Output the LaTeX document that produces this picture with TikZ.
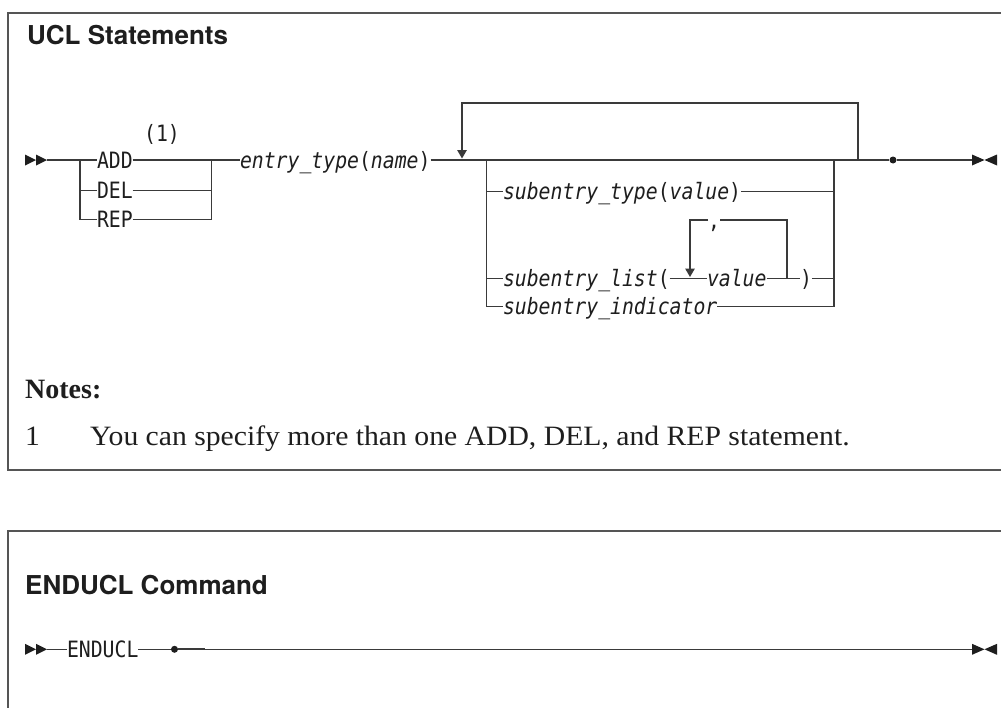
\documentclass[tikz,border=0pt]{standalone}
\usepackage{fontspec}
\setmainfont{Liberation Serif}
\newfontfamily\notefont[FakeStretch=1.06]{Liberation Serif}
\newfontfamily\diagfont[FakeStretch=0.879]{DejaVu Sans Mono}
\newfontfamily\headfont{TeX Gyre Heros}
\usetikzlibrary{arrows.meta}
\definecolor{ink}{HTML}{1E1E1E}
\definecolor{rulec}{HTML}{3A3A3A}
\definecolor{framec}{HTML}{555555}
\tikzset{
 syn/.style={font=\diagfont\fontsize{22.5}{25}\selectfont, inner sep=0pt, outer sep=0pt, text height=16.4pt, text depth=0pt, anchor=west, text=ink},
 synit/.style={syn, font=\diagfont\itshape\fontsize{22.5}{25}\selectfont},
 wire/.style={draw=rulec, line width=1.4pt},
 loopwire/.style={wire, -{Triangle[width=9.5pt,length=8.5pt]}},
 boxframe/.style={draw=framec, line width=2pt},
 head/.style={font=\headfont\bfseries\fontsize{26}{30}\selectfont, anchor=base west, inner sep=0pt, text=ink},
 notebold/.style={font=\bfseries\fontsize{28}{32}\selectfont, anchor=base west, inner sep=0pt, text=ink},
 notetext/.style={font=\notefont\fontsize{28}{32}\selectfont, anchor=base west, inner sep=0pt, text=ink},
 enddot/.style={circle, fill=ink, inner sep=0pt, minimum size=7pt},
 marks/.style={fill=ink},
}
\begin{document}
\begin{tikzpicture}[x=1pt,y=-1pt]
\useasboundingbox (0,0) rectangle (1001,707);
\fill[white] (0,0) rectangle (1001,707);
% frames
\draw[boxframe] (1010,13) -- (8,13) -- (8,470) -- (1010,470);
\draw[boxframe] (1010,531) -- (8,531) -- (8,720);

% ---------- UCL Statements ----------
\node[head] (t1) at (27,44) {UCL Statements};

\fill[marks] (25,154.5) -- (36,160) -- (25,165.5) -- cycle;
\fill[marks] (36,154.5) -- (47,160) -- (36,165.5) -- cycle;
\coordinate (s1) at (47,160);

\node[syn] (add) at (97,160) {ADD};
\node[syn] (del) at (97,190.5) {DEL};
\node[syn] (rep) at (97,219.5) {REP};
\node[syn, anchor=center] (fn1) at (162,133) {(1)};
\node[synit] (ent) at (240,160) {entry\_type{\upshape(}name{\upshape)}};

\coordinate (jL1) at (80,160);
\coordinate (jL2) at (80,190.5);
\coordinate (jL3) at (80,219.5);
\coordinate (jR1) at (211.5,160);
\coordinate (jR2) at (211.5,190.5);
\coordinate (jR3) at (211.5,219.5);

\draw[wire] (s1) -- (add.west);
\draw[wire] (jL1) -- (jL3) -- (rep.west);
\draw[wire] (jL2) -- (del.west);
\draw[wire] (add.east) -- (ent.west);
\draw[wire] (del.east) -- (jR2);
\draw[wire] (rep.east) -- (jR3) -- (jR1);

% repeat group
\node[synit] (st) at (503,191.5) {subentry\_type{\upshape(}value{\upshape)}};
\node[synit] (sl) at (503,278.5) {subentry\_list{\upshape(}};
\node[synit] (val) at (707,278.5) {value};
\node[syn] (comma) at (708,220) {,};
\node[syn] (rp) at (800,278.5) {)};
\node[synit] (si) at (503,306.5) {subentry\_indicator};
\node[enddot] (dot) at (893,160) {};

\coordinate (lpTip) at (462,158.5);
\coordinate (lpTL) at (462,103);
\coordinate (lpTR) at (858,103);
\coordinate (lpB) at (858,160);
\coordinate (cL1) at (486.5,160);
\coordinate (cL2) at (486.5,191.5);
\coordinate (cL3) at (486.5,278.5);
\coordinate (cL4) at (486.5,306.5);
\coordinate (cR1) at (834,160);
\coordinate (cR2) at (834,191.5);
\coordinate (cR3) at (834,278.5);
\coordinate (cR4) at (834,306.5);
\coordinate (ilTip) at (690,277);
\coordinate (ilTL) at (690,220);
\coordinate (ilTR) at (787,220);
\coordinate (ilB) at (787,278.5);

\draw[wire] (ent.east) -- (dot);
\draw[loopwire] (lpB) -- (lpTR) -- (lpTL) -- (lpTip);
\draw[wire] (cL1) -- (cL4) -- (si.west);
\draw[wire] (cL2) -- (st.west);
\draw[wire] (cL3) -- (sl.west);
\draw[wire] (st.east) -- (cR2);
\draw[wire] (si.east) -- (cR4) -- (cR1);
\draw[wire] (rp.east) -- (cR3);
\draw[wire] (sl.east) -- (val.west);
\draw[wire] (val.east) -- (rp.west);
\draw[wire] (ilB) -- (ilTR) -- (comma.east);
\draw[loopwire] (comma.west) -- (ilTL) -- (ilTip);

\coordinate (e1) at (922,160);
\coordinate (e2) at (972,160);
\draw[wire, line width=2pt] (dot) -- (e1);
\draw[wire] (e1) -- (e2);
\fill[marks] (972,154.5) -- (984.5,160) -- (972,165.5) -- cycle;
\fill[marks] (997,154.5) -- (984.5,160) -- (997,165.5) -- cycle;

% notes
\node[notebold] (notes) at (25,398) {Notes:};
\node[notetext] (n1) at (25,445) {1};
\node[notetext] (n1t) at (90,445) {You can specify more than one ADD, DEL, and REP statement.};

% ---------- ENDUCL ----------
\node[head] (t2) at (25,594) {ENDUCL Command};
\fill[marks] (25,643.8) -- (36,649.3) -- (25,654.8) -- cycle;
\fill[marks] (36,643.8) -- (47,649.3) -- (36,654.8) -- cycle;
\coordinate (s2) at (47,649.3);
\node[syn] (endu) at (67,649.3) {ENDUCL};
\node[enddot] (dot2) at (174.5,649.3) {};
\coordinate (f1) at (205,649.3);
\coordinate (f2) at (972,649.3);
\draw[wire] (s2) -- (endu.west);
\draw[wire] (endu.east) -- (dot2);
\draw[wire, line width=2pt] (dot2) -- (f1);
\draw[wire] (f1) -- (f2);
\fill[marks] (972,643.8) -- (984.5,649.3) -- (972,654.8) -- cycle;
\fill[marks] (997,643.8) -- (984.5,649.3) -- (997,654.8) -- cycle;
\end{tikzpicture}
\end{document}
